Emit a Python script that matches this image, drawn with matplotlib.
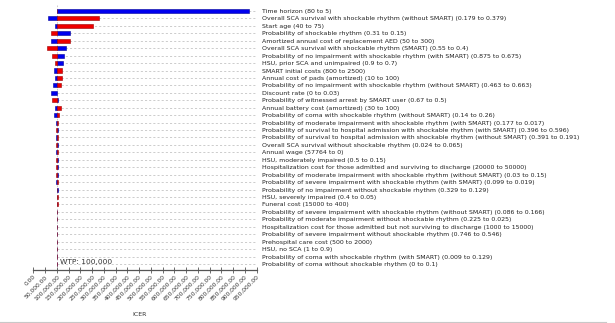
import matplotlib
matplotlib.use("Agg")
import matplotlib.pyplot as plt
from matplotlib.lines import Line2D
from matplotlib.ticker import FuncFormatter

# one-way sensitivity analysis, ICER range for each parameter
labels = [
    "Time horizon (80 to 5)",
    "Overall SCA survival with shockable rhythm (without SMART) (0.179 to 0.379)",
    "Start age (40 to 75)",
    "Probability of shockable rhythm (0.31 to 0.15)",
    "Amortized annual cost of replacement AED (50 to 300)",
    "Overall SCA survival with shockable rhythm (SMART) (0.55 to 0.4)",
    "Probability of no impairment with shockable rhythm (with SMART) (0.875 to 0.675)",
    "HSU, prior SCA and unimpaired (0.9 to 0.7)",
    "SMART initial costs (800 to 2500)",
    "Annual cost of pads (amortized) (10 to 100)",
    "Probability of no impairment with shockable rhythm (without SMART) (0.463 to 0.663)",
    "Discount rate (0 to 0.03)",
    "Probability of witnessed arrest by SMART user (0.67 to 0.5)",
    "Annual battery cost (amortized) (30 to 100)",
    "Probability of coma with shockable rhythm (without SMART) (0.14 to 0.26)",
    "Probability of moderate impairment with shockable rhythm (with SMART) (0.177 to 0.017)",
    "Probability of survival to hospital admission with shockable rhythm (with SMART) (0.396 to 0.596)",
    "Probability of survival to hospital admission with shockable rhythm (without SMART) (0.391 to 0.191)",
    "Overall SCA survival without shockable rhythm (0.024 to 0.065)",
    "Annual wage (57764 to 0)",
    "HSU, moderately impaired (0.5 to 0.15)",
    "Hospitalization cost for those admitted and surviving to discharge (20000 to 50000)",
    "Probability of moderate impairment with shockable rhythm (without SMART) (0.03 to 0.15)",
    "Probability of severe impairment with shockable rhythm (with SMART) (0.099 to 0.019)",
    "Probability of no impairment without shockable rhythm (0.329 to 0.129)",
    "HSU, severely impaired (0.4 to 0.05)",
    "Funeral cost (15000 to 400)",
    "Probability of severe impairment with shockable rhythm (without SMART) (0.086 to 0.166)",
    "Probability of moderate impairment without shockable rhythm (0.225 to 0.025)",
    "Hospitalization cost for those admitted but not surviving to discharge (1000 to 15000)",
    "Probability of severe impairment without shockable rhythm (0.746 to 0.546)",
    "Prehospital care cost (500 to 2000)",
    "HSU, no SCA (1 to 0.9)",
    "Probability of coma with shockable rhythm (with SMART) (0.009 to 0.129)",
    "Probability of coma without shockable rhythm (0 to 0.1)",
]

base_icer = 102000
wtp = 100000

# ICER at the blue end and at the red end of each range
blue_icer = [917000, 60400, 92300, 156000, 74000, 139000, 131800, 128400,
             89300, 92300, 85000, 74000, 106300, 92300, 88000, 95000,
             104000, 96000, 104000, 97000, 103000, 103000, 103000, 98000,
             103000, 99500, 99000, 101500, 102500, 101500, 102500, 101500,
             102500, 101800, 102200]
red_icer = [100000, 279000, 255000, 74000, 156000, 59500, 80800, 92300,
            123300, 123300, 116500, 102000, 80800, 116500, 110000, 104000,
            96000, 103500, 97000, 103000, 98500, 97500, 98000, 103000,
            99000, 103000, 103000, 102500, 101500, 102500, 101500, 102500,
            101500, 102200, 101800]

xticks = list(range(0, 950001, 50000))

plt.rcParams['font.family'] = 'DejaVu Sans'

fig = plt.figure(figsize=(6.15, 3.23), dpi=100)
W, H = 615.0, 323.0
ax_left, ax_right, ax_top, ax_bottom = 33.3, 256.7, 4.0, 269.5
ax = fig.add_axes([ax_left / W, 1 - ax_bottom / H,
                   (ax_right - ax_left) / W, (ax_bottom - ax_top) / H])

row0, step = 11.0, 7.44
ax.set_ylim((ax_bottom - row0) / step, (ax_top - row0) / step)
ax.set_xlim(0, 950000)

rows = list(range(len(labels)))

# dotted guide lines for each row and the WTP line
ax.hlines(rows, wtp, 950000, colors='#c4c4c4', linestyles=(0, (2.5, 2.5)),
          linewidth=0.6, zorder=1)
ax.axvline(wtp, color='#c4c4c4', linestyle=(0, (2, 2)), linewidth=0.6, zorder=1)

for i in rows:
    for val, col, edge in [(blue_icer[i], '#0000ee', '#00009a'),
                           (red_icer[i], '#ee0000', '#9a0000')]:
        left = min(val, base_icer)
        width = abs(val - base_icer)
        if width > 0:
            ax.barh(i, width, left=left, height=0.55, color=col,
                    edgecolor=edge, linewidth=0.4, zorder=3)

ax.text(113500, 33.7, "WTP: 100,000", fontsize=5.4, color='#333333',
        va='center', ha='left')

# parameter names on the right
ax.yaxis.tick_right()
ax.set_yticks(rows)
ax.set_yticklabels(labels, fontsize=4.48, color='#222222')
ax.tick_params(axis='y', length=0, pad=3.8)

ax.set_xticks(xticks)
ax.xaxis.set_major_formatter(FuncFormatter(lambda v, p: "{:,.2f}".format(v)))
ax.tick_params(axis='x', direction='inout', length=5, width=0.6,
               color='#555555', labelsize=4.3, labelcolor='#333333', pad=1)
for lbl in ax.get_xticklabels():
    lbl.set_rotation(45)
    lbl.set_ha('right')
    lbl.set_rotation_mode('anchor')

for side in ['top', 'right', 'left']:
    ax.spines[side].set_visible(False)
ax.spines['bottom'].set_color('#555555')
ax.spines['bottom'].set_linewidth(0.9)

ax.set_xlabel("ICER", fontsize=4.5, color='#333333')
ax.xaxis.set_label_coords((140 - ax_left) / (ax_right - ax_left),
                          (ax_bottom - 312) / (ax_bottom - ax_top))

fig.add_artist(Line2D([0.0, 0.985], [1.5 / H, 1.5 / H], color='#c8c8c8',
                      linewidth=0.8))

fig.savefig("out.png", dpi=100)
